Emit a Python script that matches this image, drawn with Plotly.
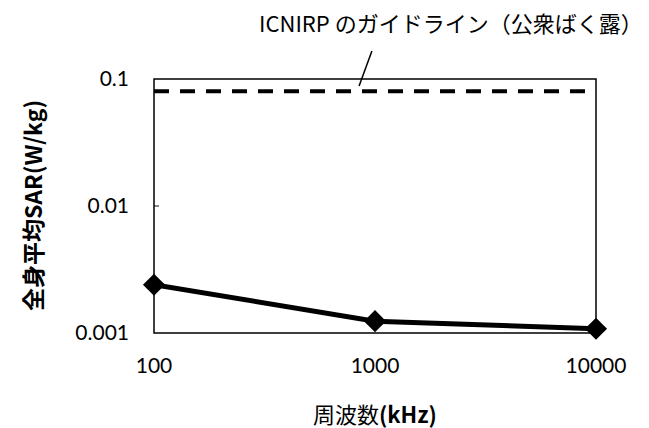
import plotly.graph_objects as go

# Whole-body averaged SAR versus frequency
freq_khz = [100, 1000, 10000]
sar_wkg = [0.0024, 0.00124, 0.00108]

# ICNIRP public-exposure basic restriction (whole-body SAR)
guide_x = [100, 10000]
guide_sar = [0.08, 0.08]

x_ticks = [100, 1000, 10000]
x_ticktext = ["100", "1000", "10000"]
y_ticks = [0.001, 0.01, 0.1]
y_ticktext = ["0.001", "0.01", "0.1"]

TICK_FONT = dict(family="Lato, Open Sans, sans-serif", size=21, color="#000")
CJK = "Noto Sans CJK JP"

fig = go.Figure()

fig.add_trace(go.Scatter(
    x=guide_x, y=guide_sar, mode="lines",
    line=dict(color="#000", width=4, dash="15px,11px"),
    hoverinfo="skip", showlegend=False,
))

fig.add_trace(go.Scatter(
    x=freq_khz, y=sar_wkg, mode="lines+markers",
    line=dict(color="#000", width=5),
    marker=dict(symbol="diamond", size=17, color="#000"),
    cliponaxis=False, showlegend=False,
))

fig.update_layout(
    width=649, height=428,
    margin=dict(l=154, r=53, t=79, b=95, autoexpand=False),
    paper_bgcolor="#fff", plot_bgcolor="#fff",
    xaxis=dict(
        type="log", range=[2, 4], automargin=False,
        tickvals=x_ticks, ticktext=x_ticktext,
        ticks="", showgrid=False, zeroline=False, showline=False,
        tickfont=TICK_FONT, ticklabelstandoff=18,
    ),
    yaxis=dict(
        type="log", range=[-3, -1], automargin=False,
        tickvals=y_ticks, ticktext=y_ticktext,
        ticks="inside", ticklen=5, tickcolor="#888", tickwidth=1.5,
        showgrid=False, zeroline=False, showline=False,
        tickfont=TICK_FONT, ticklabelstandoff=24,
    ),
    shapes=[
        # plot-area frame
        dict(type="rect", xref="paper", yref="paper", x0=0, y0=0, x1=1, y1=1,
             line=dict(color="#000", width=1.5), layer="above"),
        # leader line from the guideline caption
        dict(type="line", xref="paper", yref="paper",
             x0=0.464, y0=0.972, x1=0.493, y1=1.110,
             line=dict(color="#000", width=1.5)),
    ],
    annotations=[
        dict(text="ICNIRP のガイドライン（公衆ばく露）",
             xref="paper", yref="paper", x=0.673, y=1.224,
             xanchor="center", yanchor="middle", showarrow=False,
             font=dict(family=CJK, size=22, color="#000")),
        # axis titles
        dict(text="周波数<b>(kHz)</b>",
             xref="paper", yref="paper", x=0.5, y=-0.316,
             xanchor="center", yanchor="middle", showarrow=False,
             font=dict(family=CJK, size=22, color="#000")),
        dict(text="<b>全身平均SAR(W/kg)</b>", textangle=-90,
             xref="paper", yref="paper", x=-0.276, y=0.5,
             xanchor="center", yanchor="middle", showarrow=False,
             font=dict(family=CJK, size=23, color="#000")),
    ],
)

fig.write_html("out.html")
